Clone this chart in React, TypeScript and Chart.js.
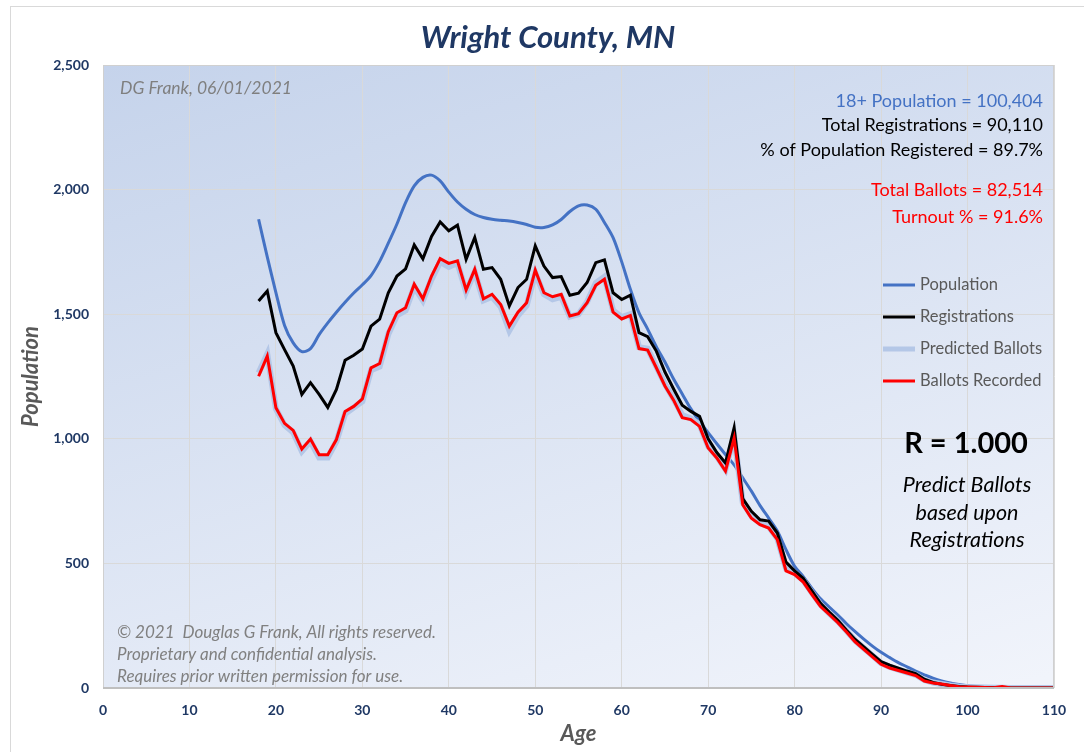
import React, { useEffect, useRef } from "react";
import { Chart, registerables } from "chart.js";

Chart.register(...registerables);

const ages = [18, 19, 20, 21, 22, 23, 24, 25, 26, 27, 28, 29, 30, 31, 32, 33, 34, 35, 36, 37, 38, 39, 40, 41, 42, 43, 44, 45, 46, 47, 48, 49, 50, 51, 52, 53, 54, 55, 56, 57, 58, 59, 60, 61, 62, 63, 64, 65, 66, 67, 68, 69, 70, 71, 72, 73, 74, 75, 76, 77, 78, 79, 80, 81, 82, 83, 84, 85, 86, 87, 88, 89, 90, 91, 92, 93, 94, 95, 96, 97, 98, 99, 100, 101, 102, 103, 104, 105, 106, 107, 108, 109, 110];

const population = [1881, 1730, 1587, 1455, 1385, 1350, 1362, 1418, 1465, 1508, 1548, 1585, 1618, 1655, 1712, 1785, 1862, 1948, 2015, 2049, 2058, 2035, 1990, 1950, 1921, 1900, 1888, 1881, 1877, 1874, 1868, 1860, 1849, 1848, 1858, 1880, 1912, 1935, 1938, 1921, 1868, 1807, 1710, 1600, 1505, 1440, 1370, 1308, 1240, 1180, 1120, 1070, 1025, 980, 937, 895, 843, 790, 732, 682, 630, 555, 488, 447, 400, 358, 325, 293, 258, 226, 196, 168, 143, 122, 102, 85, 68, 53, 39, 28, 20, 14, 9, 6, 4, 2, 1, 1, 0, 0, 0, 0, 0];

const registrations = [1553, 1593, 1426, 1358, 1292, 1178, 1225, 1178, 1126, 1198, 1315, 1335, 1360, 1452, 1480, 1586, 1653, 1682, 1778, 1722, 1812, 1870, 1835, 1857, 1720, 1808, 1680, 1687, 1640, 1533, 1607, 1640, 1774, 1693, 1647, 1651, 1576, 1584, 1627, 1707, 1718, 1586, 1559, 1576, 1426, 1410, 1352, 1268, 1200, 1135, 1110, 1090, 1000, 945, 903, 1044, 760, 709, 675, 670, 622, 505, 470, 440, 390, 340, 305, 272, 232, 195, 165, 135, 106, 92, 80, 68, 58, 35, 22, 15, 10, 6, 4, 3, 2, 1, 1, 0, 0, 0, 0, 0, 0];

const predictedBallots = [1265, 1340, 1120, 1055, 1025, 950, 990, 925, 925, 990, 1100, 1125, 1150, 1275, 1290, 1420, 1495, 1515, 1610, 1555, 1640, 1710, 1690, 1705, 1590, 1670, 1555, 1570, 1530, 1435, 1495, 1535, 1665, 1580, 1560, 1570, 1490, 1500, 1550, 1625, 1650, 1515, 1488, 1500, 1368, 1362, 1290, 1220, 1160, 1095, 1082, 1058, 970, 930, 878, 1010, 745, 690, 662, 648, 600, 480, 462, 432, 382, 335, 300, 268, 230, 190, 160, 130, 100, 85, 74, 63, 53, 32, 22, 16, 10, 6, 4, 3, 2, 1, 1, 0, 0, 0, 0, 0, 0];

const ballotsRecorded = [1251, 1332, 1125, 1062, 1034, 959, 999, 936, 936, 997, 1110, 1130, 1160, 1285, 1302, 1430, 1506, 1526, 1620, 1562, 1653, 1723, 1704, 1714, 1597, 1680, 1562, 1580, 1539, 1452, 1508, 1546, 1677, 1586, 1570, 1580, 1493, 1502, 1546, 1616, 1640, 1508, 1481, 1495, 1362, 1356, 1285, 1212, 1155, 1085, 1077, 1050, 963, 923, 870, 1003, 735, 681, 655, 642, 595, 470, 455, 425, 375, 327, 295, 262, 225, 185, 155, 125, 95, 80, 70, 60, 50, 28, 20, 16, 10, 5, 4, 3, 2, 1, 6, 0, 0, 0, 0, 0, 0];

const chartTitle = "Wright County, MN";
const xTitle = "Age";
const yTitle = "Population";
const authorNote = "DG Frank, 06/01/2021";
const statsBlue = ["18+ Population = 100,404"];
const statsBlack = ["Total Registrations = 90,110", "% of Population Registered = 89.7%"];
const statsRed = ["Total Ballots = 82,514", "Turnout % = 91.6%"];
const rText = "R = 1.000";
const rNotes = ["Predict Ballots", "based upon", "Registrations"];
const copyrightLines = [
  "\u00A9 2021  Douglas G Frank, All rights reserved.",
  "Proprietary and confidential analysis.",
  "Requires prior written permission for use.",
];
const legendLabels = ["Population", "Registrations", "Predicted Ballots", "Ballots Recorded"];

const FONT = "Lato, 'Open Sans', sans-serif";
const NAVY = "#1f3864";
const BLUE = "#4472c4";
const LIGHTBLUE = "#b4c7e7";
const RED = "#ff0000";

const toPoints = (vals: number[]) => vals.map((v, i) => ({ x: ages[i], y: v }));

const decorPlugin = {
  id: "decor",
  beforeDraw(chart: any) {
    const { ctx, chartArea } = chart;
    const { left, top, right, bottom } = chartArea;
    ctx.save();
    ctx.fillStyle = "#ffffff";
    ctx.fillRect(0, 0, chart.width, chart.height);
    ctx.strokeStyle = "#d9d9d9";
    ctx.lineWidth = 1;
    ctx.strokeRect(10.5, 6.5, chart.width + 20, chart.height + 20);
    const g = ctx.createLinearGradient(left, top, left + 250, bottom + 200);
    g.addColorStop(0, "#c5d3eb");
    g.addColorStop(1, "#f1f4fb");
    ctx.fillStyle = g;
    ctx.fillRect(left, top, right - left, bottom - top);
    ctx.restore();
  },
  afterDatasetsDraw(chart: any) {
    const { ctx, chartArea } = chart;
    const { left, top, right, bottom } = chartArea;
    ctx.save();
    ctx.textBaseline = "middle";
    // title
    ctx.fillStyle = NAVY;
    ctx.font = `italic bold 31px ${FONT}`;
    ctx.textAlign = "center";
    ctx.fillText(chartTitle, 548, 38);

    // author note
    ctx.fillStyle = "#7f7f7f";
    ctx.font = `italic 17.5px ${FONT}`;
    ctx.textAlign = "left";
    ctx.fillText(authorNote, 120, 88);

    // stats
    ctx.textAlign = "right";
    ctx.font = `18px ${FONT}`;
    const rx = 1043;
    ctx.fillStyle = BLUE;
    ctx.fillText(statsBlue[0], rx, 101);
    ctx.fillStyle = "#000000";
    ctx.fillText(statsBlack[0], rx, 125);
    ctx.fillText(statsBlack[1], rx, 150);
    ctx.fillStyle = RED;
    ctx.fillText(statsRed[0], rx, 190);
    ctx.fillText(statsRed[1], rx, 217);

    // legend
    const legendColors = [BLUE, "#000000", LIGHTBLUE, RED];
    const legendWidths = [3, 3, 5, 3];
    const legendY = [285, 317, 349, 381];
    ctx.textAlign = "left";
    ctx.font = `16.5px ${FONT}`;
    for (let i = 0; i < legendLabels.length; i++) {
      ctx.strokeStyle = legendColors[i];
      ctx.lineWidth = legendWidths[i];
      ctx.beginPath();
      ctx.moveTo(883, legendY[i]);
      ctx.lineTo(915, legendY[i]);
      ctx.stroke();
      ctx.fillStyle = "#595959";
      ctx.fillText(legendLabels[i], 920, legendY[i]);
    }

    // R block
    ctx.textAlign = "center";
    ctx.fillStyle = "#000000";
    ctx.font = `bold 29px ${FONT}`;
    ctx.fillText(rText, 966, 444);
    ctx.font = `italic 21.5px ${FONT}`;
    ctx.fillText(rNotes[0], 967, 485);
    ctx.fillText(rNotes[1], 967, 513);
    ctx.fillText(rNotes[2], 967, 540);

    // copyright
    ctx.textAlign = "left";
    ctx.fillStyle = "#808080";
    ctx.font = `italic 17px ${FONT}`;
    ctx.fillText(copyrightLines[0], 117, 633);
    ctx.fillText(copyrightLines[1], 117, 655);
    ctx.fillText(copyrightLines[2], 117, 677);

    // plot border
    ctx.strokeStyle = "#d0d0d0";
    ctx.lineWidth = 1;
    ctx.strokeRect(left + 0.5, top + 0.5, right - left - 1, bottom - top);
    ctx.strokeStyle = "#bfbfbf";
    ctx.lineWidth = 2;
    ctx.beginPath();
    ctx.moveTo(left, bottom);
    ctx.lineTo(right, bottom);
    ctx.stroke();
    ctx.restore();
  },
};

export default function App() {
  const ref = useRef<HTMLCanvasElement | null>(null);
  useEffect(() => {
    if (!ref.current) return;
    const chart = new Chart(ref.current, {
      type: "line",
      data: {
        datasets: [
          { label: legendLabels[0], data: toPoints(population), borderColor: BLUE, borderWidth: 3, pointRadius: 0, tension: 0.3, order: 3 },
          { label: legendLabels[1], data: toPoints(registrations), borderColor: "#000000", borderWidth: 3, pointRadius: 0, tension: 0, order: 1 },
          { label: legendLabels[2], data: toPoints(predictedBallots), borderColor: LIGHTBLUE, borderWidth: 6, pointRadius: 0, tension: 0, order: 2 },
          { label: legendLabels[3], data: toPoints(ballotsRecorded), borderColor: RED, borderWidth: 3, pointRadius: 0, tension: 0, order: 0 },
        ],
      },
      options: {
        animation: false,
        responsive: true,
        maintainAspectRatio: false,
        layout: { padding: { left: 0, top: 65, right: 30, bottom: 0 } },
        plugins: { legend: { display: false }, tooltip: { enabled: false }, title: { display: false } },
        scales: {
          x: {
            type: "linear",
            min: 0,
            max: 110,
            afterFit: (s: any) => { s.height = 64; },
            ticks: { stepSize: 10, padding: 14, color: NAVY, font: { family: FONT, weight: "bold", size: 14 } },
            grid: { color: "#d9d9d9", lineWidth: 1, drawTicks: false },
            border: { display: false },
            title: { display: true, text: xTitle, color: "#595959", font: { family: FONT, weight: "bold", style: "italic", size: 22 }, padding: { top: 0, bottom: 5 } },
          },
          y: {
            min: 0,
            max: 2500,
            afterFit: (s: any) => { s.width = 103; },
            ticks: { stepSize: 500, padding: 14, color: NAVY, font: { family: FONT, weight: "bold", size: 14 }, callback: (v: any) => Number(v).toLocaleString("en-US") },
            grid: { color: "#d9d9d9", lineWidth: 1, drawTicks: false },
            border: { display: false },
            title: { display: true, text: yTitle, color: "#595959", font: { family: FONT, weight: "bold", style: "italic", size: 22 }, padding: { top: 18, bottom: 0 } },
          },
        },
      },
      plugins: [decorPlugin],
    });
    return () => chart.destroy();
  }, []);
  return (
    <div style={{ position: "absolute", left: 0, top: 0, width: 1084, height: 752 }}>
      <canvas ref={ref} />
    </div>
  );
}
